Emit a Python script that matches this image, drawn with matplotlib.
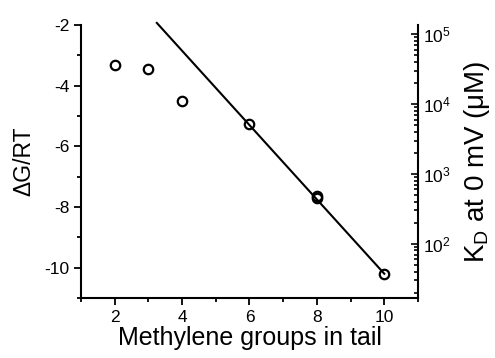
import numpy as np
import matplotlib
matplotlib.use("Agg")
import matplotlib.pyplot as plt
from matplotlib.ticker import MultipleLocator, LogLocator

plt.rcParams["font.family"] = ["Liberation Sans", "DejaVu Sans"]
plt.rcParams["mathtext.fontset"] = "custom"
plt.rcParams["mathtext.rm"] = "Liberation Sans"
plt.rcParams["mathtext.it"] = "Liberation Sans:italic"
plt.rcParams["axes.unicode_minus"] = False

# measured free energies (dG/RT) vs methylene groups
n_groups = [2, 3, 4, 6, 8, 8, 10]
dg_rt = [-3.32, -3.46, -4.51, -5.28, -7.64, -7.70, -10.22]

# linear fit drawn in the figure
fit_x = [3.25, 10]
fit_slope = -1.225
fit_at_6 = -5.30

fig = plt.figure(figsize=(4.95, 3.58), dpi=100)
ax = fig.add_axes([0.1636, 0.1676, 0.6808, 0.7626])

fit_y = [fit_at_6 + fit_slope * (x - 6) for x in fit_x]
ax.plot(fit_x, fit_y, color="black", lw=1.5, clip_on=False, zorder=2)
ax.plot(n_groups, dg_rt, "o", mfc="none", mec="black", ms=6.8, mew=1.6, zorder=3)

ax.set_xlim(1, 11)
ax.set_ylim(-11, -2)
ax.xaxis.set_major_locator(MultipleLocator(2))
ax.xaxis.set_minor_locator(MultipleLocator(1))
ax.yaxis.set_major_locator(MultipleLocator(2))
ax.yaxis.set_minor_locator(MultipleLocator(1))
ax.tick_params(which="both", direction="out", width=1.3, labelsize=12.5)
ax.tick_params(which="major", length=5)
ax.tick_params(which="minor", length=3)
ax.spines["top"].set_visible(False)
ax.spines["right"].set_visible(False)
for s in ["left", "bottom"]:
    ax.spines[s].set_linewidth(1.5)

ax.set_xlabel("Methylene groups in tail", fontsize=18, labelpad=1)
ax.set_ylabel("ΔG/RT", fontsize=16.5, labelpad=6)

# right axis: K_D in uM, consistent with dG/RT = ln(K_D / 1 M)
ax2 = ax.twinx()
ax2.set_yscale("log")
ax2.set_ylim(np.exp(-11) * 1e6, np.exp(-2) * 1e6)
ax2.yaxis.set_major_locator(LogLocator(base=10, numticks=10))
ax2.yaxis.set_minor_locator(LogLocator(base=10, subs=np.arange(2, 10), numticks=10))
ax2.tick_params(which="both", direction="in", width=1.2, labelsize=12.5)
ax2.tick_params(which="major", length=5)
ax2.tick_params(which="minor", length=3)
ax2.spines["top"].set_visible(False)
ax2.spines["left"].set_visible(False)
ax2.spines["bottom"].set_visible(False)
ax2.spines["right"].set_linewidth(1.5)
ax2.set_ylabel(r"K$_{\mathrm{D}}$ at 0 mV (μM)", fontsize=20, labelpad=8)

fig.savefig("out.png", dpi=100)
